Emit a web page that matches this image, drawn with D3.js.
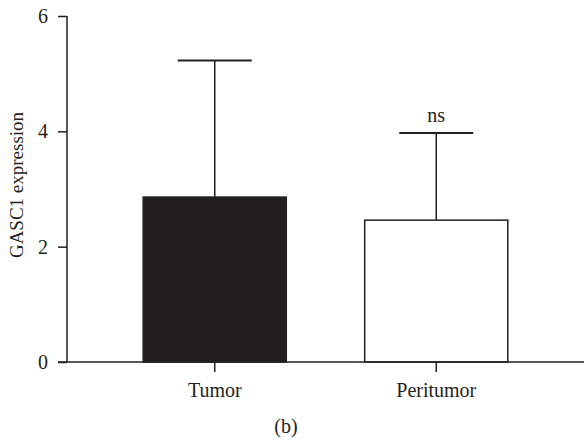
<!DOCTYPE html>
<html>
<head>
<meta charset="utf-8">
<script src="https://cdn.jsdelivr.net/npm/d3@7"></script>
<style>
  html, body { margin: 0; padding: 0; background: #fff; }
  svg text { font-family: "Liberation Serif", "DejaVu Serif", serif; fill: #231f20; }
</style>
</head>
<body>
<div id="chart"></div>
<script>
// GASC1 expression, tumor vs peritumor (panel b)
const groups = ['Tumor', 'Peritumor'];
const means = [2.86, 2.46];
const upperErr = [5.23, 3.97];
const barFills = ['#231f20', '#ffffff'];
const sigLabels = ['', 'ns'];
const yTicks = [0, 2, 4, 6];

const width = 584, height = 443;
const margin = { top: 16, right: 0, bottom: 81, left: 67 };
const ink = '#231f20';
const fontSize = 20;

const svg = d3.select('#chart')
  .append('svg')
  .attr('width', width)
  .attr('height', height);

const y = d3.scaleLinear()
  .domain([0, 6])
  .range([height - margin.bottom, margin.top]);

const x = d3.scaleBand()
  .domain(groups)
  .range([margin.left, width - margin.right])
  .paddingInner(0.354)
  .paddingOuter(0.344);

const data = groups.map((g, i) => ({ group: g, mean: means[i], hi: upperErr[i], fill: barFills[i], sig: sigLabels[i] }));

// error bars (upper only), drawn behind bars
const capHalf = 37;
const err = svg.append('g');
err.selectAll('line.stem')
  .data(data)
  .join('line')
  .attr('class', 'stem')
  .attr('x1', d => x(d.group) + x.bandwidth() / 2)
  .attr('x2', d => x(d.group) + x.bandwidth() / 2)
  .attr('y1', d => y(d.mean))
  .attr('y2', d => y(d.hi))
  .attr('stroke', ink)
  .attr('stroke-width', 1.5);
err.selectAll('line.cap')
  .data(data)
  .join('line')
  .attr('class', 'cap')
  .attr('x1', d => x(d.group) + x.bandwidth() / 2 - capHalf)
  .attr('x2', d => x(d.group) + x.bandwidth() / 2 + capHalf)
  .attr('y1', d => y(d.hi))
  .attr('y2', d => y(d.hi))
  .attr('stroke', ink)
  .attr('stroke-width', 2);

// bars
svg.append('g')
  .selectAll('rect')
  .data(data)
  .join('rect')
  .attr('x', d => x(d.group))
  .attr('y', d => y(d.mean))
  .attr('width', x.bandwidth())
  .attr('height', d => y(0) - y(d.mean))
  .attr('fill', d => d.fill)
  .attr('stroke', ink)
  .attr('stroke-width', 1.5);

// significance labels
svg.append('g')
  .selectAll('text')
  .data(data.filter(d => d.sig))
  .join('text')
  .attr('x', d => x(d.group) + x.bandwidth() / 2)
  .attr('y', d => y(d.hi) - 11)
  .attr('text-anchor', 'middle')
  .attr('font-size', fontSize)
  .text(d => d.sig);

// y axis
const yAxis = svg.append('g')
  .attr('transform', `translate(${margin.left},0)`)
  .call(d3.axisLeft(y).tickValues(yTicks).tickFormat(d3.format('d')).tickSize(9).tickPadding(10));
yAxis.select('.domain').attr('d', `M0,${y(6)}V${y(0)}`);

// x axis
const xAxis = svg.append('g')
  .attr('transform', `translate(0,${y(0)})`)
  .call(d3.axisBottom(x).tickSize(10).tickPadding(10.5));
xAxis.select('.domain').attr('d', `M58,0H${width}`);

[yAxis, xAxis].forEach(a => {
  a.selectAll('.domain').attr('stroke', ink).attr('stroke-width', 1.5);
  a.selectAll('.tick line').attr('stroke', ink).attr('stroke-width', 1.5);
  a.selectAll('.tick text')
    .attr('fill', ink)
    .attr('font-size', fontSize)
    .attr('font-family', '"Liberation Serif", "DejaVu Serif", serif');
});

// y label
svg.append('text')
  .attr('transform', `translate(23,185) rotate(-90)`)
  .attr('text-anchor', 'middle')
  .attr('font-size', 19)
  .text('GASC1 expression');

// panel label
svg.append('text')
  .attr('x', 286)
  .attr('y', 433)
  .attr('text-anchor', 'middle')
  .attr('font-size', fontSize)
  .text('(b)');
</script>
</body>
</html>
